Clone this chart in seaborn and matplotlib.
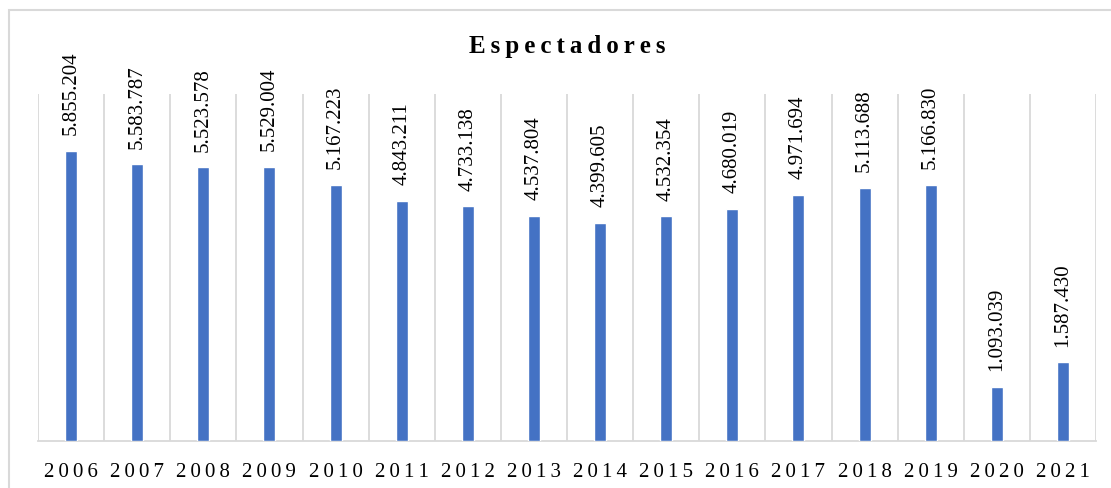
import matplotlib
matplotlib.use("Agg")
import matplotlib.pyplot as plt
import seaborn as sns
import pandas as pd
import numpy as np
from matplotlib.patches import Rectangle

years = ["2006", "2007", "2008", "2009", "2010", "2011", "2012", "2013",
         "2014", "2015", "2016", "2017", "2018", "2019", "2020", "2021"]
espectadores = [5855204, 5583787, 5523578, 5529004, 5167223, 4843211, 4733138,
                4537804, 4399605, 4532354, 4680019, 4971694, 5113688, 5166830,
                1093039, 1587430]
title = "Espectadores"

sns.set_theme(style="white")
plt.rcParams['font.family'] = 'Liberation Serif'

def spaced(s, sep="\u2009"):
    return sep.join(s)

df = pd.DataFrame({"year": years, "value": espectadores})

fig = plt.figure(figsize=(11.11, 4.89), dpi=100)
fig.patches.append(Rectangle((9 / 1111, -0.1), 1.2, 1 - 11 / 489 + 0.1,
                             transform=fig.transFigure, fill=False,
                             edgecolor="#D9D9D9", linewidth=1.5, zorder=0))
ax = fig.add_axes([38 / 1111, 47 / 489, (1096 - 38) / 1111, 347 / 489])

sns.barplot(data=df, x="year", y="value", color="#4472C4", width=0.18,
            saturation=1, ax=ax, zorder=3)

ax.set_ylim(0, 7000000)
ax.set_xlim(-0.5, len(years) - 0.5)
ax.set_yticks([])
ax.set_xlabel("")
ax.set_ylabel("")

ax.set_xticks(np.arange(-0.5, len(years)), minor=True)
ax.grid(which="minor", axis="x", color="#D9D9D9", linewidth=1.3, zorder=0)
ax.grid(which="major", visible=False)
ax.tick_params(axis="x", which="both", length=0, pad=15)
ax.set_xticks(range(len(years)))
ax.set_xticklabels([spaced(y) for y in years], fontsize=15, color="#000000")

for s in ["top", "left", "right"]:
    ax.spines[s].set_visible(False)
ax.spines["bottom"].set_color("#D9D9D9")
ax.spines["bottom"].set_linewidth(1.3)

labels = [f"{v:,}".replace(",", ".") for v in espectadores]
ax.bar_label(ax.containers[0], labels=labels, rotation=90, padding=12,
             fontsize=15, color="#000000")

ax.set_title(spaced(title, "\u2009"), fontsize=18, fontweight="bold", pad=30,
             color="#000000")

fig.savefig("out.png", dpi=100)
